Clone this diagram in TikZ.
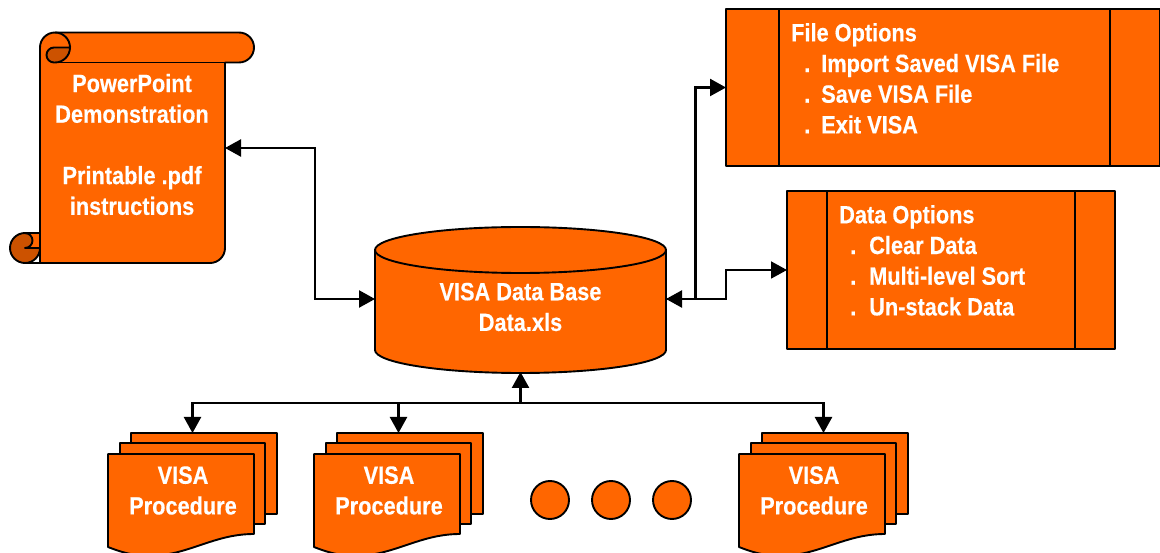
\documentclass[tikz,border=0pt]{standalone}
\usepackage{fontspec}
\setmainfont[FakeStretch=0.87,FakeBold=0.3]{Liberation Sans}
\usetikzlibrary{arrows.meta}
\definecolor{visa}{HTML}{FF6600}
\definecolor{visadark}{HTML}{CC5200}

\begin{document}
\begin{tikzpicture}[x=1pt,y=1pt,
        shape line/.style={draw=black, line width=1.9pt, fill=visa, line join=round},
        curl/.style={draw=black, line width=1.9pt, fill=visadark},
        anchor box/.style={inner sep=0pt, outer sep=0pt},
        opt box/.style={shape line, rectangle, inner sep=0pt, outer sep=0pt},
        dot/.style={shape line, circle, minimum size=38pt, inner sep=0pt},
        lbl/.style={text=white, font=\fontsize{25}{30.7}\selectfont\bfseries, align=center, inner sep=0pt},
        lbl left/.style={lbl, align=left, anchor=north west},
        link/.style={line width=2.4pt, -{Triangle[length=16pt,width=17pt]}},
        bilink/.style={line width=2.4pt, {Triangle[length=16pt,width=17pt]}-{Triangle[length=16pt,width=17pt]}}]
        \useasboundingbox (0,0) rectangle (1160,552);

        % scroll
        \node[anchor box, minimum width=185pt, minimum height=231pt] (scroll) at (132.5,404) {};
        \draw[shape line] (40,504.5) arc[start angle=180, end angle=90, radius=15]
          -- (239,519.5) arc[start angle=90, end angle=-90, radius=15]
          -- (225,489.5) -- (225,304) arc[start angle=0, end angle=-90, radius=15]
          -- (25,289) -- (40,289) -- cycle;
        \draw[line width=1.9pt] (55,489.5) -- (225,489.5);
        \draw[curl] (69.5,504.5) -- (54,504.5) arc[start angle=90, end angle=270, radius=7.5]
          -- (55,489.5) arc[start angle=-90, end angle=0, radius=15] -- cycle;
        \draw[line width=1.9pt] (55,519.5) arc[start angle=90, end angle=0, radius=15];
        \draw[curl] (25,304) circle[radius=15];
        \draw[shape line] (25,319) -- (40,319) -- (40,304) -- (25,304)
          arc[start angle=-90, end angle=90, radius=7.5] -- cycle;
        \node[lbl] (scrolltxt) at (132,407.5) {PowerPoint\\Demonstration\\[30.7pt]Printable .pdf\\instructions};

        % data base
        \node[anchor box, minimum width=291pt, minimum height=146pt] (dbase) at (520.5,253) {};
        \draw[shape line] (375,302) -- (375,202) arc[x radius=145.5, y radius=23, start angle=180, end angle=360]
          -- (666,302) arc[x radius=145.5, y radius=23, start angle=0, end angle=180] -- cycle;
        \draw[line width=1.9pt] (375,302) arc[x radius=145.5, y radius=23, start angle=180, end angle=360];
        \node[lbl] (dbasetxt) at (520.5,245) {VISA Data Base\\Data.xls};

        % options
        \node[opt box, minimum width=434pt, minimum height=157pt] (fileopt) at (943,464.5) {};
        \draw[line width=1.9pt] (779,543) -- (779,386) (1110,543) -- (1110,386);
        \node[lbl left] (filetxt) at (791,529) {File Options\\
          \hspace*{13pt}.\hspace{11pt}Import Saved VISA File\\
          \hspace*{13pt}.\hspace{11pt}Save VISA File\\
          \hspace*{13pt}.\hspace{11pt}Exit VISA};

        \node[opt box, minimum width=328pt, minimum height=158pt] (dataopt) at (951,282) {};
        \draw[line width=1.9pt] (827,361) -- (827,203) (1075,361) -- (1075,203);
        \node[lbl left] (datatxt) at (839,347) {Data Options\\
          \hspace*{11pt}.\hspace{13pt}Clear Data\\
          \hspace*{11pt}.\hspace{13pt}Multi-level Sort\\
          \hspace*{11pt}.\hspace{13pt}Un-stack Data};

        % procedures
        \foreach \n/\x in {a/108,b/314,c/739}{
          \begin{scope}[shift={(\x,0)}]
            \draw[shape line] (23,119) rectangle (169,38);
            \draw[shape line] (12,109) rectangle (157,28);
            \draw[shape line] (0,98) -- (146,98) -- (146,18)
              .. controls (105,18) and (80,-4) .. (40,-4)
              .. controls (25,-4) and (10,1) .. (0,5) -- cycle;
            \coordinate (top\n) at (84.5,119);
            \node[lbl] (proc\n) at (75,61.5) {VISA\\Procedure};
          \end{scope}
        }
        \foreach \n/\x in {a/550,b/611,c/672}
          \node[dot] (dot\n) at (\x,52) {};

        % connectors
        \coordinate (bus) at (520.5,149);
        \draw[bilink] (scroll.east) -- ++(90,0) |- (dbase.west);
        \draw[bilink] (dbase.east) -- ++(29.5,0) |- (fileopt.west);
        \draw[link,line width=1.9pt] (dbase.east) -- ++(60,0) |- (dataopt.west);
        \draw[link] (bus) -- (dbase.south);
        \draw[link] (bus) -| (topa);
        \draw[link] (bus) -| (topb);
        \draw[link] (bus) -| (topc);
      \end{tikzpicture}
\end{document}
